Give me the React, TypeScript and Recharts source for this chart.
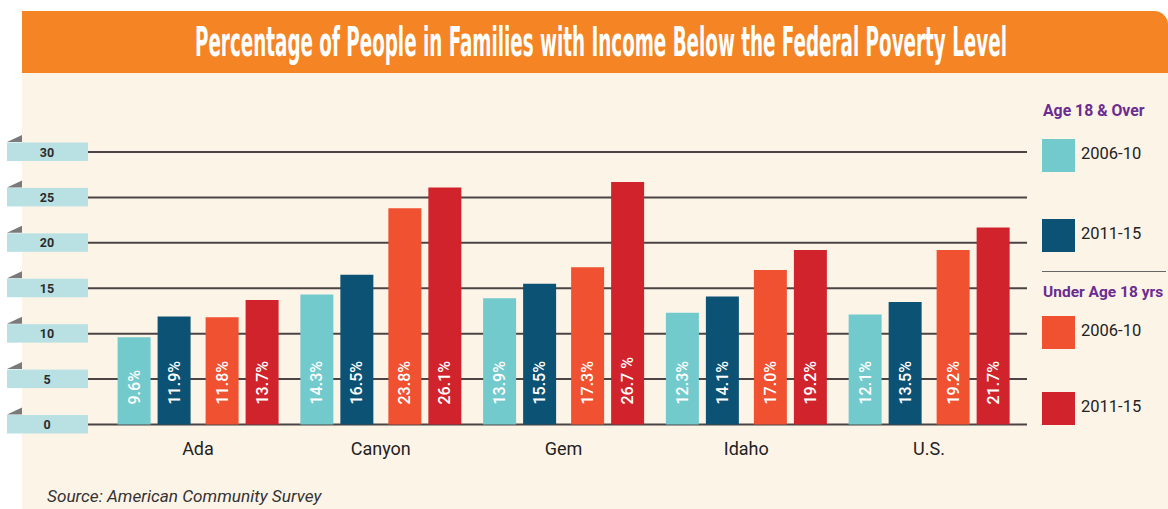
import React, { useLayoutEffect, useRef, useState } from "react";
import { BarChart, Bar, XAxis, YAxis, CartesianGrid } from "recharts";

const categories = ["Ada", "Canyon", "Gem", "Idaho", "U.S."];
const adult0610 = [9.6, 14.3, 13.9, 12.3, 12.1];
const adult1115 = [11.9, 16.5, 15.5, 14.1, 13.5];
const child0610 = [11.8, 23.8, 17.3, 17.0, 19.2];
const child1115 = [13.7, 26.1, 26.7, 19.2, 21.7];
const child1115Labels = ["13.7%", "26.1%", "26.7 %", "19.2%", "21.7%"];
const yTicks = [0, 5, 10, 15, 20, 25, 30];

const TITLE = "Percentage of People in Families with Income Below the Federal Poverty Level";
const SOURCE = "Source: American Community Survey";

const COLORS = {
  a0610: "#72cacd",
  a1115: "#0b5274",
  c0610: "#ef5131",
  c1115: "#d1232b",
  orange: "#f48424",
  cream: "#fdf4e8",
  tab: "#b9e1e3",
  purple: "#6a2c91",
};

const data = categories.map((name, i) => ({
  name,
  a0610: adult0610[i],
  a1115: adult1115[i],
  c0610: child0610[i],
  c1115: child1115[i],
}));

const FONT = "Roboto, 'Noto Sans', sans-serif";

const YTab = (props: any) => {
  const { x, y, payload } = props;
  const left = x - 81;
  return (
    <g>
      <polygon points={`${left},${y - 10} ${left + 15},${y - 10} ${left + 15},${y - 17}`} fill="#7a7a7a" />
      <rect x={left} y={y - 9.5} width={81} height={18.5} fill={COLORS.tab} />
      <text
        x={left + 40}
        y={y}
        textAnchor="middle"
        dominantBaseline="central"
        fontFamily={FONT}
        fontWeight={700}
        fontSize={12.5}
        fill="#2b2b2b"
      >
        {payload.value}
      </text>
    </g>
  );
};

const makeLabel = (key: string) => (props: any) => {
  const { x, y, width, height, value, index } = props;
  const cx = x + width / 2;
  const by = y + height - 20;
  const text = key === "c1115" ? child1115Labels[index] : `${Number(value).toFixed(1)}%`;
  return (
    <text
      x={cx}
      y={by}
      transform={`rotate(-90 ${cx} ${by})`}
      textAnchor="start"
      dominantBaseline="central"
      fontFamily={FONT}
      fontWeight={500}
      fontSize={16}
      fill="#ffffff"
    >
      {text}
    </text>
  );
};

const LegendItem = ({ top, color, label }: { top: number; color: string; label: string }) => (
  <div style={{ position: "absolute", left: 1042, top, height: 33, display: "flex", alignItems: "center" }}>
    <div style={{ width: 33, height: 33, background: color }} />
    <span style={{ marginLeft: 6, marginTop: -4, fontFamily: FONT, fontSize: 16.5, color: "#222" }}>{label}</span>
  </div>
);

const Title = () => {
  const ref = useRef<HTMLSpanElement>(null);
  const [sx, setSx] = useState(1);
  useLayoutEffect(() => {
    if (ref.current) {
      const w = ref.current.offsetWidth;
      if (w > 0) setSx(812 / w);
    }
  }, []);
  return (
    <div style={{ position: "absolute", left: 195, top: 18, height: 48, whiteSpace: "nowrap" }}>
      <span
        ref={ref}
        style={{
          display: "inline-block",
          transformOrigin: "0 0",
          transform: `scaleX(${sx})`,
          fontFamily: "'Liberation Sans Narrow', 'DejaVu Sans Condensed', 'Liberation Sans', sans-serif",
          fontWeight: 700,
          fontSize: 41,
          lineHeight: "48px",
          color: "#ffffff",
        }}
      >
        {TITLE}
      </span>
    </div>
  );
};

export default function App() {
  return (
    <div style={{ position: "absolute", left: 0, top: 0, width: 1168, height: 509, background: "#ffffff", overflow: "hidden" }}>
      <div style={{ position: "absolute", left: 22, top: 73, width: 1146, height: 436, background: COLORS.cream }} />
      <div
        style={{
          position: "absolute",
          left: 22,
          top: 11,
          width: 1146,
          height: 62,
          background: COLORS.orange,
          borderTopRightRadius: 14,
        }}
      />
      <Title />
      <div style={{ position: "absolute", left: 0, top: 0 }}>
        <BarChart
          width={1168}
          height={509}
          data={data}
          margin={{ top: 152, right: 141, bottom: 24.5, left: 7 }}
          barGap={7}
        >
          <CartesianGrid horizontal={true} vertical={false} stroke="#4a4444" strokeWidth={2} />
          <XAxis
            dataKey="name"
            height={60}
            axisLine={false}
            tickLine={false}
            tickSize={0}
            tickMargin={18}
            padding={{ left: 18.6, right: 6.6 }}
            tick={{ fontFamily: FONT, fontSize: 18, fill: "#222" }}
            interval={0}
          />
          <YAxis
            width={81}
            domain={[0, 30]}
            ticks={yTicks}
            interval={0}
            axisLine={false}
            tickLine={false}
            tickSize={0}
            tickMargin={0}
            tick={(p: any) => <YTab {...p} />}
          />
          <Bar dataKey="a0610" fill={COLORS.a0610} barSize={33} isAnimationActive={false} label={makeLabel("a0610")} />
          <Bar dataKey="a1115" fill={COLORS.a1115} barSize={33} isAnimationActive={false} label={makeLabel("a1115")} />
          <Bar dataKey={() => 0} fill="transparent" barSize={1} isAnimationActive={false} />
          <Bar dataKey="c0610" fill={COLORS.c0610} barSize={33} isAnimationActive={false} label={makeLabel("c0610")} />
          <Bar dataKey="c1115" fill={COLORS.c1115} barSize={33} isAnimationActive={false} label={makeLabel("c1115")} />
        </BarChart>
      </div>
      <div style={{ position: "absolute", left: 1043, top: 101, fontFamily: FONT, fontWeight: 700, fontSize: 15.8, color: COLORS.purple }}>
        Age 18 &amp; Over
      </div>
      <LegendItem top={139} color={COLORS.a0610} label="2006-10" />
      <LegendItem top={219} color={COLORS.a1115} label="2011-15" />
      <div style={{ position: "absolute", left: 1042, top: 270.5, width: 124, height: 1.5, background: "#666" }} />
      <div style={{ position: "absolute", left: 1043, top: 283, fontFamily: FONT, fontWeight: 700, fontSize: 15.5, color: COLORS.purple }}>
        Under Age 18 yrs
      </div>
      <LegendItem top={316} color={COLORS.c0610} label="2006-10" />
      <LegendItem top={392} color={COLORS.c1115} label="2011-15" />
      <div style={{ position: "absolute", left: 47, top: 486, fontFamily: FONT, fontStyle: "italic", fontSize: 17.2, color: "#333" }}>
        {SOURCE}
      </div>
    </div>
  );
}
